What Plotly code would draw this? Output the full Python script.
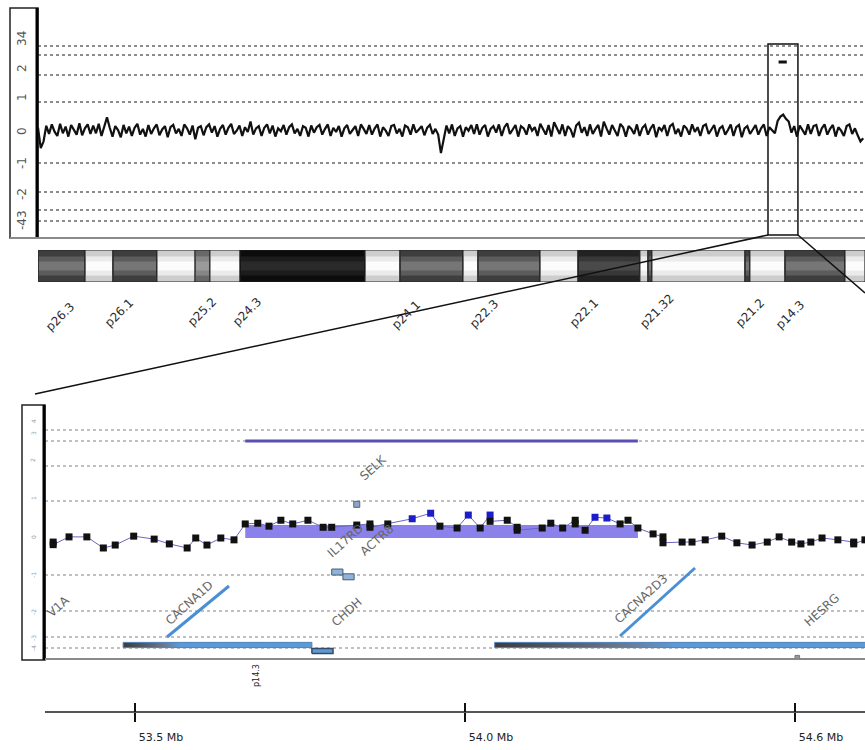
import numpy as np
import plotly.graph_objects as go

W, H = 865, 750
def px(x): return x / W
def py(y): return 1 - y / H

# ---------------- data ----------------
# nonlinear log2-ratio scale used by the viewer (level -> display units)
levels = [-4, -3, -2, -1, 0, 1, 2, 3, 4]
top_scale = [-91, -80, -62, -33, 0, 28, 55, 75, 84]
zoom_scale = [-110, -99, -73, -37, 0, 37, 72, 97, 108]

# whole-arm (chr3p) log2 ratios, one probe every 0.2 Mb
probe_step_mb = 0.2
top_log2 = [
    0.08, -0.55, -0.35, 0.15, -0.12, 0.2, -0.05, -0.18, 0.22, -0.1, 0.12, -0.2, 0.18, 0.02, -0.14, 0.24, -0.16, 0.06, 0.2, -0.12,
    0.16, -0.1, 0.22, -0.18, 0.1, 0.45, 0.08, -0.2, 0.14, 0.0, -0.22, 0.18, -0.1, 0.12, -0.18, 0.08, 0.22, -0.14, 0.04, -0.2,
    0.18, -0.12, 0.06, 0.2, -0.16, 0.02, 0.14, -0.22, 0.1, 0.18, -0.1, 0.04, -0.18, 0.2, 0.06, -0.14, 0.16, -0.28, 0.08, 0.14,
    -0.16, 0.1, 0.2, -0.08, 0.14, -0.2, 0.04, 0.18, -0.14, 0.08, 0.22, -0.12, -0.02, 0.16, -0.18, 0.1, -0.06, 0.3, -0.14, 0.06,
    0.14, -0.18, 0.08, 0.2, -0.1, 0.16, -0.2, 0.06, -0.04, 0.18, -0.14, 0.1, 0.2, -0.1, 0.04, -0.18, 0.14, 0.08, -0.2, 0.16,
    -0.08, 0.1, 0.18, -0.14, 0.04, 0.2, -0.18, 0.08, -0.06, 0.14, -0.2, 0.06, 0.18, -0.12, 0.0, 0.14, -0.18, 0.2, 0.04, -0.12,
    0.18, -0.14, 0.06, 0.2, -0.2, 0.1, -0.02, -0.18, 0.14, 0.18, -0.1, 0.04, -0.2, 0.16, 0.1, -0.14, 0.2, -0.08, 0.02, 0.14,
    -0.16, 0.08, 0.18, -0.12, 0.04, -0.14, -0.7, -0.25, 0.16, -0.1, 0.2, -0.18, 0.06, 0.14, -0.2, 0.1, -0.02, 0.18, -0.12, 0.2,
    -0.14, 0.08, 0.18, -0.2, 0.04, 0.14, -0.08, 0.2, -0.18, 0.1, 0.24, -0.12, 0.04, 0.18, -0.2, 0.14, 0.06, -0.14, 0.2, -0.02,
    0.1, -0.18, 0.22, 0.04, -0.14, 0.18, -0.2, 0.28, 0.06, -0.12, 0.2, -0.18, 0.14, 0.02, -0.22, 0.16, 0.26, -0.08, 0.1, -0.18,
    0.2, -0.12, 0.04, 0.18, -0.2, 0.3, 0.06, -0.14, 0.18, -0.02, -0.18, 0.22, 0.1, -0.2, 0.14, 0.04, -0.12, 0.2, -0.18, 0.08,
    0.18, -0.14, 0.06, 0.2, -0.22, 0.1, -0.02, 0.18, -0.18, 0.14, 0.22, -0.12, 0.04, -0.2, 0.16, 0.06, -0.14, 0.2, -0.06, 0.1,
    -0.18, 0.14, 0.2, -0.12, 0.04, 0.18, -0.2, 0.06, 0.14, -0.14, 0.0, 0.2, -0.18, 0.1, 0.18, -0.22, 0.06, 0.14, -0.12, 0.04,
    0.18, -0.14, 0.06, 0.2, -0.18, 0.1, -0.02, -0.1, 0.32, 0.48, 0.55, 0.4, 0.3, -0.08, 0.14, -0.2, 0.16, 0.02, -0.14, 0.2,
    -0.12, 0.14, 0.18, -0.18, 0.06, 0.2, -0.14, 0.04, 0.18, -0.2, 0.1, -0.02, -0.18, 0.14, 0.2, -0.12, 0.06, -0.16, -0.35, -0.25,
]
top_pos = np.arange(len(top_log2)) * probe_step_mb
arm_end_mb = 59.93

# chromosome 3p bands (Mb) and stains
band_names = ["p26.3", "p26.2", "p26.1", "p25.3", "p25.2", "p25.1", "p24.3", "p24.2", "p24.1", "p23",
              "p22.3", "p22.2", "p22.1", "p21.33", "p21.32", "p21.31", "p21.2", "p21.1", "p14.3", "p14.2"]
band_start = [0.0, 3.41, 5.43, 8.62, 11.38, 12.46, 14.64, 23.70, 26.23, 30.80,
              31.88, 36.38, 39.13, 43.62, 44.20, 44.49, 51.23, 51.59, 54.13, 58.48]
band_end = [3.41, 5.43, 8.62, 11.38, 12.46, 14.64, 23.70, 26.23, 30.80, 31.88,
            36.38, 39.13, 43.62, 44.20, 44.49, 51.23, 51.59, 54.13, 58.48, 59.93]
band_stain = ["gpos75", "gneg", "gpos75", "gneg", "gpos50", "gneg", "gpos100", "gneg", "gpos75", "gneg",
              "gpos75", "gneg", "gpos90", "gneg", "gpos75", "gneg", "gpos75", "gneg", "gpos75", "gneg"]
band_labels_shown = ["p26.3", "p26.1", "p25.2", "p24.3", "p24.1", "p22.3", "p22.1", "p21.32", "p21.2", "p14.3"]

# zoomed region probes (Mb, log2 ratio)
zoom_pos = [53.376, 53.376, 53.400, 53.427, 53.452, 53.470, 53.498, 53.529, 53.552, 53.579, 53.592, 53.609, 53.630, 53.650,
            53.667, 53.686, 53.703, 53.721, 53.739, 53.762, 53.785, 53.798, 53.836, 53.856, 53.856, 53.883, 53.920, 53.948,
            53.962, 53.988, 54.005, 54.023, 54.038, 54.038, 54.064, 54.079, 54.079, 54.117, 54.130, 54.148, 54.167, 54.167,
            54.182, 54.197, 54.215, 54.235, 54.247, 54.262,
            54.285, 54.300, 54.300, 54.329, 54.344, 54.364, 54.389, 54.412, 54.435, 54.458, 54.476, 54.495, 54.509, 54.524,
            54.541, 54.565, 54.589, 54.589, 54.606]
zoom_log2 = [-0.11, -0.18, 0.03, 0.03, -0.27, -0.19, 0.05, -0.03, -0.16, -0.27, 0.0, -0.19, 0.0, -0.05,
             0.38, 0.40, 0.32, 0.48, 0.38, 0.48, 0.29, 0.29, 0.35, 0.38, 0.29, 0.38, 0.52, 0.67,
             0.32, 0.27, 0.62, 0.27, 0.62, 0.45, 0.48, 0.29, 0.21, 0.27, 0.40, 0.27, 0.48, 0.38,
             0.21, 0.56, 0.54, 0.38, 0.48, 0.27,
             0.11, 0.03, -0.13, -0.11, -0.11, -0.05, 0.05, -0.13, -0.19, -0.11, 0.03, -0.11, -0.16, -0.11,
             0.0, -0.05, -0.11, -0.16, -0.05]

# called gain segment
seg_start, seg_end = 53.667, 54.262
seg_mean = 0.35
seg_call_zoom = 3.0
seg_call_top = 2.65

# zoom window (Mb)
zoom_lo, zoom_hi = 53.3636, 54.6061
zoom_box_lo, zoom_box_hi = 52.90, 55.07

# genes
gene_names = ["CACNA1D", "CHDH", "CACNA2D3", "HESRG"]
gene_start = [53.482, 53.768, 54.045, 54.500]
gene_end = [53.768, 53.800, 54.700, 54.507]
gene_strand = [1, -1, 1, 0]

# extra features
selk_pos, selk_val = [53.836], [0.91]
aux_start = [53.798, 53.815]
aux_end = [53.815, 53.832]
aux_val = [-0.92, -1.05]

ruler_vals = [53.5, 54.0, 54.5]
ruler_text = ["53.5 Mb", "54.0 Mb", "54.6 Mb"]

top_tick_text = ["34", "2", "1", "0", "-1", "-2", "-43"]
zoom_tick_text = ["4", "3", "2", "1", "0", "-1", "-2", "-3", "-4"]

# ---------------- helpers ----------------
def to_disp(v, scale):
    return np.interp(np.asarray(v, float), levels, scale)

FONT = "DejaVu Sans"
fig = go.Figure()

# ---- top panel trace
fig.add_trace(go.Scatter(x=top_pos, y=to_disp(top_log2, top_scale), mode="lines",
                         line=dict(color="#111111", width=2.2), xaxis="x", yaxis="y", hoverinfo="skip"))
fig.add_trace(go.Scatter(x=[seg_start, seg_end], y=to_disp([seg_call_top] * 2, top_scale), mode="lines",
                         line=dict(color="#111111", width=3), xaxis="x", yaxis="y"))

# ---- ideogram
stain_edge = {"gneg": "#cdcdcd", "gpos50": "#686868", "gpos75": "#3e3e3e", "gpos90": "#222222", "gpos100": "#0c0c0c"}
stain_mid = {"gneg": "#ebebeb", "gpos50": "#868686", "gpos75": "#5c5c5c", "gpos90": "#383838", "gpos100": "#1c1c1c"}
stain_ctr = {"gneg": "#fcfcfc", "gpos50": "#9a9a9a", "gpos75": "#767676", "gpos90": "#4a4a4a", "gpos100": "#2a2a2a"}
bs, be = np.array(band_start), np.array(band_end)
centers, widths = (bs + be) / 2, be - bs
fig.add_trace(go.Bar(x=centers, y=[1] * len(centers), base=0, width=widths,
                     marker=dict(color=[stain_edge[s] for s in band_stain], line=dict(color="#222", width=1)),
                     xaxis="x", yaxis="y4", hoverinfo="skip"))
fig.add_trace(go.Bar(x=centers, y=[0.6] * len(centers), base=0.2, width=np.maximum(widths - 0.14, 0.02),
                     marker=dict(color=[stain_mid[s] for s in band_stain], line=dict(width=0)),
                     xaxis="x", yaxis="y4", hoverinfo="skip"))
fig.add_trace(go.Bar(x=centers, y=[0.28] * len(centers), base=0.36, width=np.maximum(widths - 0.14, 0.02),
                     marker=dict(color=[stain_ctr[s] for s in band_stain], line=dict(width=0)),
                     xaxis="x", yaxis="y4", hoverinfo="skip"))

# ---- zoom panel
fig.add_trace(go.Scatter(x=[seg_start, seg_end, seg_end, seg_start, seg_start],
                         y=to_disp([0, 0, seg_mean, seg_mean, 0], zoom_scale),
                         fill="toself", fillcolor="#8a82ea", line=dict(width=0), mode="lines",
                         xaxis="x2", yaxis="y2", hoverinfo="skip"))
fig.add_trace(go.Scatter(x=[seg_start, seg_end], y=to_disp([seg_call_zoom] * 2, zoom_scale), mode="lines",
                         line=dict(color="#5a50b4", width=3), xaxis="x2", yaxis="y2"))
fig.add_trace(go.Scatter(x=zoom_pos, y=to_disp(zoom_log2, zoom_scale), mode="lines+markers",
                         line=dict(color="#6a66c8", width=1),
                         marker=dict(symbol="square", size=7,
                                     color=["#1c1cc8" if v > 0.5 else "#111111" for v in zoom_log2],
                                     line=dict(width=0)),
                         xaxis="x2", yaxis="y2", hoverinfo="skip"))
fig.add_trace(go.Scatter(x=selk_pos, y=to_disp(selk_val, zoom_scale), mode="markers",
                         marker=dict(symbol="square", size=6, color="#8ea4c4", line=dict(color="#56647a", width=1)),
                         xaxis="x2", yaxis="y2"))
for s, e, v in zip(aux_start, aux_end, aux_val):
    yc = float(to_disp(v, zoom_scale))
    fig.add_trace(go.Scatter(x=[s, e, e, s, s], y=[yc - 3, yc - 3, yc + 3, yc + 3, yc - 3],
                             fill="toself", fillcolor="#8fb4da", line=dict(color="#4a5a72", width=1),
                             mode="lines", xaxis="x2", yaxis="y2"))
strand_y = {1: -107, -1: -113, 0: -119}
for g, s, e, st in zip(gene_names, gene_start, gene_end, gene_strand):
    yc = strand_y[st]
    hh = 2.6 if st != 0 else 1.6
    xs, ys = [s, e, e, s, s], [yc - hh, yc - hh, yc + hh, yc + hh, yc - hh]
    if g in ("CACNA1D", "CACNA2D3"):
        a, b = (0.22, 0.3) if g == "CACNA1D" else (0.3, 0.42)
        grad = dict(type="horizontal",
                    colorscale=[[0, "#3c3c3c"], [a, "#6a7a90"], [b, "#5b9ad8"], [1, "#5b9ad8"]])
        fig.add_trace(go.Scatter(x=xs, y=ys, fill="toself", fillgradient=grad,
                                 line=dict(color="#4f7fb8", width=1), mode="lines", xaxis="x2", yaxis="y2"))
    elif g == "CHDH":
        fig.add_trace(go.Scatter(x=xs, y=ys, fill="toself", fillcolor="#5b9ad8",
                                 line=dict(color="#3a4a60", width=1.5), mode="lines", xaxis="x2", yaxis="y2"))
    else:
        fig.add_trace(go.Scatter(x=xs, y=ys, fill="toself", fillcolor="#999",
                                 line=dict(color="#777", width=1), mode="lines", xaxis="x2", yaxis="y2"))

# ---------------- layout ----------------
top_grid = [to_disp(l, top_scale) for l in levels if l != 0]
zoom_grid = [to_disp(l, zoom_scale) for l in levels if l != 0]

shapes = []
def pline(x0, y0, x1, y1, color="#000", width=1.5):
    shapes.append(dict(type="line", xref="paper", yref="paper", x0=px(x0), y0=py(y0), x1=px(x1), y1=py(y1),
                       line=dict(color=color, width=width)))
def prect(x0, y0, x1, y1, color="#000", width=1.5):
    shapes.append(dict(type="rect", xref="paper", yref="paper", x0=px(x0), y0=py(y0), x1=px(x1), y1=py(y1),
                       line=dict(color=color, width=width)))

prect(10, 8, 38, 238, "#222", 1.5)
pline(37, 8, 37, 238, "#000", 3)
pline(10, 238, 865, 238, "#8a8a8a", 2)
shapes.append(dict(type="rect", xref="x", yref="paper", x0=zoom_box_lo, x1=zoom_box_hi, y0=py(235), y1=py(44),
                   line=dict(color="#111", width=1.5)))
pline(768, 235, 35, 394, "#111", 1.5)
pline(798, 235, 865, 293, "#111", 1.5)
prect(22, 405, 45, 660, "#222", 1.5)
pline(44, 405, 44, 660, "#000", 3)
pline(45, 659, 865, 659, "#8a8a8a", 2)
pline(167, 637, 229, 586, "#4a8fd6", 3)
pline(620, 636, 695, 568, "#4a8fd6", 3)

ann = []
def label(text, x, y, angle=0, size=12, color="#444", xanchor="center", yanchor="middle"):
    ann.append(dict(text=text, x=px(x), y=py(y), xref="paper", yref="paper", showarrow=False,
                    textangle=angle, xanchor=xanchor, yanchor=yanchor,
                    font=dict(family=FONT, size=size, color=color)))

for t, yy in zip(top_tick_text, [39, 68, 97, 131, 163, 194, 220]):
    label(t, 22, yy, -90, 12, "#555")
for t, yy in zip(zoom_tick_text, [421, 433, 460, 498, 537, 575, 612, 638, 648]):
    label(t, 33, yy, -90, 6, "#9a9a9a")

band_label_xy = [(60, 317), (119, 313), (202, 312), (247, 312), (406, 315),
                 (484, 314), (584, 313), (657, 311), (750, 313), (790, 315)]
for t, (xx, yy) in zip(band_labels_shown, band_label_xy):
    label(t, xx, yy, -45, 12, "#2a2a2a")

gene_label_xy = [("SELK", 373, 468), ("IL17RD", 345, 541), ("ACTR8", 377, 540), ("CHDH", 347, 612),
                 ("CACNA1D", 189, 603), ("CACNA2D3", 641, 599), ("HESRG", 822, 610), ("V1A", 59, 606)]
for t, xx, yy in gene_label_xy:
    label(t, xx, yy, -42, 12, "#666")
label("p14.3", 256, 676, -90, 8, "#222")

fig.update_layout(
    width=W, height=H, margin=dict(l=0, r=0, t=0, b=0),
    paper_bgcolor="white", plot_bgcolor="rgba(0,0,0,0)",
    showlegend=False, barmode="overlay", font=dict(family=FONT),
    shapes=shapes, annotations=ann,
    xaxis=dict(domain=[px(38), 1], range=[0, arm_end_mb], anchor="y", visible=False),
    yaxis=dict(domain=[py(238), py(8)], range=[-108, 122], anchor="x", tickvals=top_grid,
               showticklabels=False, ticks="", showgrid=True, gridcolor="#8c8c8c", griddash="dot",
               gridwidth=1.6, zeroline=False, showline=False),
    yaxis4=dict(domain=[py(282), py(250)], range=[0, 1], anchor="x", visible=False),
    xaxis2=dict(domain=[px(45), 1], range=[zoom_lo, zoom_hi], anchor="free", position=38 / H,
                showline=True, linecolor="#555", linewidth=2, showgrid=False, zeroline=False,
                tickvals=ruler_vals, ticktext=ruler_text, ticks="outside", ticklen=9, tickwidth=2,
                tickcolor="#111", ticklabelshift=26, ticklabelstandoff=6,
                tickfont=dict(family=FONT, size=11, color="#222")),
    xaxis3=dict(overlaying="x2", matches="x2", anchor="free", position=38 / H, showline=False,
                showgrid=False, zeroline=False, tickvals=ruler_vals, ticks="inside", ticklen=9,
                tickwidth=2, tickcolor="#111", showticklabels=False),
    yaxis2=dict(domain=[py(660), py(405)], range=[-122, 133], anchor="x2", tickvals=zoom_grid,
                showticklabels=False, ticks="", showgrid=True, gridcolor="#c0c0c0", griddash="dot",
                gridwidth=1.6, zeroline=False, showline=False),
)
fig.add_trace(go.Scatter(x=[zoom_lo], y=[0], xaxis="x3", yaxis="y2", mode="markers",
                         marker=dict(size=0.1, opacity=0), hoverinfo="skip"))

fig.write_html("out.html", config={"displayModeBar": False},
               post_script="document.body.style.margin='0px';document.body.style.overflow='hidden';")
